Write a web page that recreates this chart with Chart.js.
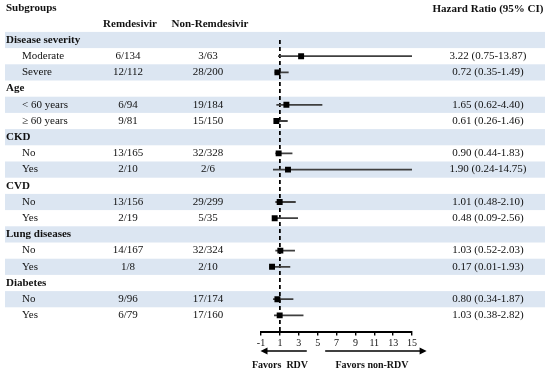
<!DOCTYPE html>
<html>
<head>
<meta charset="utf-8">
<script src="https://cdn.jsdelivr.net/npm/chart.js@4.4.1/dist/chart.umd.min.js"></script>
<style>
  html, body { margin: 0; padding: 0; background: #fff; }
  #wrap { width: 550px; height: 372px; position: relative; }
</style>
</head>
<body>
<div id="wrap"><canvas id="forest"></canvas></div>
<script>
// Data
const groups = ["Disease severity", "Age", "CKD", "CVD", "Lung diseases", "Diabetes"];
const subgroups = [
  ["Moderate", "Severe"],
  ["< 60 years", "\u2265 60 years"],
  ["No", "Yes"],
  ["No", "Yes"],
  ["No", "Yes"],
  ["No", "Yes"]
];
const remEvents = ["6/134", "12/112", "6/94", "9/81", "13/165", "2/10", "13/156", "2/19", "14/167", "1/8", "9/96", "6/79"];
const nonRemEvents = ["3/63", "28/200", "19/184", "15/150", "32/328", "2/6", "29/299", "5/35", "32/324", "2/10", "17/174", "17/160"];
const hrLabels = ["3.22 (0.75-13.87)", "0.72 (0.35-1.49)", "1.65 (0.62-4.40)", "0.61 (0.26-1.46)", "0.90 (0.44-1.83)", "1.90 (0.24-14.75)",
  "1.01 (0.48-2.10)", "0.48 (0.09-2.56)", "1.03 (0.52-2.03)", "0.17 (0.01-1.93)", "0.80 (0.34-1.87)", "1.03 (0.38-2.82)"];
// plotted marks
const hrPoint = [3.25, 0.74, 1.69, 0.63, 0.87, 1.86, 0.98, 0.45, 1.05, 0.17, 0.74, 0.98];
const ciLow = [0.8, 0.45, 0.63, 0.38, 0.52, 0.27, 0.52, 0.38, 0.52, -0.08, 0.27, 0.38];
const ciHigh = [15, 1.93, 5.5, 1.83, 2.33, 15, 2.68, 2.92, 2.6, 2.1, 2.43, 3.5];
const xTicks = [-1, 1, 3, 5, 7, 9, 11, 13, 15];

const SERIF = "'Liberation Serif', 'Times New Roman', serif";
const BAND = "#dce6f2";
const INK = "#111";

// row index of each data row (group header rows sit in between)
const dataRows = [];
groups.forEach((g, gi) => { dataRows.push(gi * 3 + 1, gi * 3 + 2); });
const totalRows = groups.length * 3;

// Build datasets
const datasets = [];
datasets.push({
  label: "HR",
  data: hrPoint.map((v, i) => ({ x: v, y: dataRows[i] })),
  pointStyle: "rect",
  pointRadius: 4.2,
  pointHoverRadius: 4.2,
  backgroundColor: "#000",
  borderColor: "#000",
  borderWidth: 0,
  showLine: false
});
hrPoint.forEach((v, i) => {
  datasets.push({
    label: "ci" + i,
    data: [{ x: ciLow[i], y: dataRows[i] }, { x: ciHigh[i], y: dataRows[i] }],
    showLine: true,
    borderColor: "#3f3f3f",
    borderWidth: 1.8,
    pointRadius: 0
  });
});
datasets.push({
  label: "ref",
  data: [{ x: 1, y: 0 }, { x: 1, y: totalRows }],
  showLine: true,
  borderColor: "#000",
  borderWidth: 1.8,
  borderDash: [4, 3],
  pointRadius: 0
});

// Row bands + table text
const tablePlugin = {
  id: "table",
  beforeDatasetsDraw(chart) {
    const ctx = chart.ctx;
    const ys = chart.scales.y;
    ctx.save();
    ctx.fillStyle = BAND;
    for (let r = 0; r < totalRows; r += 2) {
      const top = ys.getPixelForValue(r - 0.5);
      const bot = ys.getPixelForValue(r + 0.5);
      ctx.fillRect(5, top, 540, bot - top);
    }
    ctx.restore();
  },
  afterDraw(chart) {
    const ctx = chart.ctx;
    const ys = chart.scales.y;
    const xs = chart.scales.x;
    ctx.save();
    ctx.fillStyle = INK;
    ctx.textBaseline = "middle";

    // headers
    ctx.font = "bold 11px " + SERIF;
    ctx.textAlign = "left";
    ctx.fillText("Subgroups", 6, 8);
    ctx.textAlign = "center";
    ctx.fillText("Remdesivir", 130, 24);
    ctx.fillText("Non-Remdesivir", 210, 24);
    ctx.fillText("Hazard Ratio (95% CI)", 488, 9);

    groups.forEach((g, gi) => {
      ctx.font = "bold 11px " + SERIF;
      ctx.textAlign = "left";
      ctx.fillText(g, 6, ys.getPixelForValue(gi * 3));
      subgroups[gi].forEach((s, si) => {
        const k = gi * 2 + si;
        const y = ys.getPixelForValue(dataRows[k]);
        ctx.font = "11px " + SERIF;
        ctx.textAlign = "left";
        ctx.fillText(s, 22, y);
        ctx.textAlign = "center";
        ctx.fillText(remEvents[k], 128, y);
        ctx.fillText(nonRemEvents[k], 208, y);
        ctx.fillText(hrLabels[k], 488, y);
      });
    });

    // direction arrows under the axis
    const ay = 351;
    ctx.strokeStyle = "#000";
    ctx.lineWidth = 1.6;
    const arrow = (x0, x1) => {
      const dir = Math.sign(x1 - x0);
      ctx.beginPath();
      ctx.moveTo(x0, ay);
      ctx.lineTo(x1 - dir * 5, ay);
      ctx.stroke();
      ctx.beginPath();
      ctx.moveTo(x1, ay);
      ctx.lineTo(x1 - dir * 7, ay - 3.5);
      ctx.lineTo(x1 - dir * 7, ay + 3.5);
      ctx.closePath();
      ctx.fill();
    };
    ctx.fillStyle = "#000";
    arrow(xs.getPixelForValue(3.85), xs.getPixelForValue(-1.05));
    arrow(xs.getPixelForValue(5.8), xs.getPixelForValue(16.55));

    ctx.fillStyle = INK;
    ctx.font = "bold 10px " + SERIF;
    ctx.textAlign = "center";
    ctx.fillText("Favors  RDV", 280, 365);
    ctx.fillText("Favors non-RDV", 372, 365);
    ctx.restore();
  }
};

new Chart(document.getElementById("forest"), {
  type: "scatter",
  data: { datasets },
  options: {
    responsive: true,
    maintainAspectRatio: false,
    animation: false,
    devicePixelRatio: 1,
    layout: { padding: { left: 261, right: 138, top: 7.6, bottom: 0 } },
    plugins: { legend: { display: false }, tooltip: { enabled: false } },
    scales: {
      x: {
        type: "linear",
        min: -1,
        max: 15,
        afterBuildTicks: (axis) => { axis.ticks = xTicks.map(v => ({ value: v })); },
        afterFit: (axis) => { axis.height = 40.4; },
        ticks: {
          autoSkip: false,
          maxRotation: 0,
          padding: 2,
          color: INK,
          font: { family: SERIF, size: 10 }
        },
        grid: { drawOnChartArea: false, drawTicks: true, tickLength: 4, color: "#000", lineWidth: 1.4 },
        border: { display: true, color: "#000", width: 2 }
      },
      y: {
        type: "linear",
        min: -2,
        max: totalRows,
        reverse: true,
        display: false
      }
    }
  },
  plugins: [tablePlugin]
});
</script>
</body>
</html>
